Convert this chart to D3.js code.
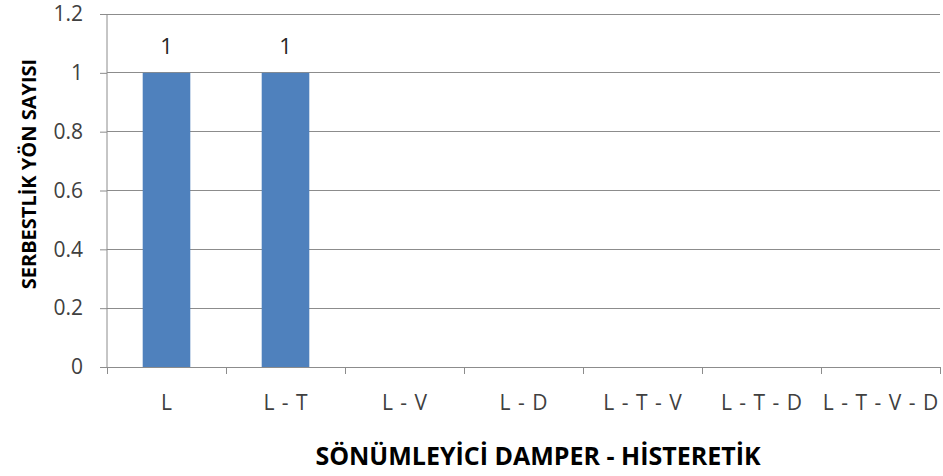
<!DOCTYPE html>
<html><head><meta charset="utf-8">
<script src="https://cdn.jsdelivr.net/npm/d3@7"></script>
<style>body{margin:0;background:#fff}svg{display:block;font-family:"Open Sans",sans-serif}</style>
</head><body><svg id="c" width="943" height="476"></svg>
<script>
const categories = ["L","L - T","L - V","L - D","L - T - V","L - T - D","L - T - V - D"];
const values = [1,1,0,0,0,0,0];
const yTicks = [0,0.2,0.4,0.6,0.8,1,1.2];
const yTickLabels = ["0","0.2","0.4","0.6","0.8","1","1.2"];
const xTitle = "SÖNÜMLEYİCİ DAMPER - HİSTERETİK";
const yTitle = "SERBESTLİK YÖN SAYISI";

const svg = d3.select("#c");
const m = {l:107, r:3, t:14, b:109};
const W = 943 - m.l - m.r, H = 476 - m.t - m.b;
const g = svg.append("g").attr("transform",`translate(${m.l},${m.t})`);
const x = d3.scaleBand().domain(categories).range([0,W]).paddingInner(0.6).paddingOuter(0.3);
const xb = d3.scaleBand().domain(categories).range([0,W]);
const y = d3.scaleLinear().domain([0,1.2]).range([H,0]);

// gridlines
g.selectAll(".grid").data(yTicks.filter(d=>d>0)).enter().append("line")
  .attr("x1",0).attr("x2",W).attr("y1",d=>y(d)).attr("y2",d=>y(d))
  .attr("stroke","#8c8c8c").attr("stroke-width",1).attr("shape-rendering","crispEdges");

// bars
g.selectAll(".bar").data(values).enter().append("rect")
  .attr("x",(d,i)=>x(categories[i])).attr("width",x.bandwidth())
  .attr("y",d=>y(d)).attr("height",d=>H-y(d)).attr("fill","#4F81BD");

// data labels
g.selectAll(".lab").data(values.map((v,i)=>({v,i})).filter(d=>d.v>0)).enter().append("text")
  .attr("x",d=>x(categories[d.i])+x.bandwidth()/2).attr("y",d=>y(d.v)-19)
  .attr("text-anchor","middle").attr("font-size",22).attr("fill","#262626").text(d=>d.v);

// y axis
const ya = d3.axisLeft(y).tickValues(yTicks).tickFormat((d,i)=>yTickLabels[i]).tickSize(7).tickPadding(17);
const yg = g.append("g").call(ya);
yg.select(".domain").attr("stroke","#8c8c8c").attr("d",`M0,${H}V0`);
yg.selectAll(".tick line").attr("stroke","#8c8c8c");
yg.selectAll("text").attr("font-size",21).attr("fill","#404040").attr("font-family","'Open Sans',sans-serif");

// x axis
const xa = g.append("g").attr("transform",`translate(0,${H})`);
xa.append("line").attr("x1",0).attr("x2",W).attr("stroke","#8c8c8c").attr("shape-rendering","crispEdges");
const bounds = categories.map(c=>xb(c)).concat([W]);
xa.selectAll(".xt").data(bounds).enter().append("line")
  .attr("x1",d=>d).attr("x2",d=>d).attr("y1",0).attr("y2",7).attr("stroke","#8c8c8c").attr("shape-rendering","crispEdges");
xa.selectAll(".xl").data(categories).enter().append("text")
  .attr("x",d=>xb(d)+xb.bandwidth()/2).attr("y",43).attr("text-anchor","middle")
  .attr("font-size",21).attr("word-spacing",2).attr("fill","#404040").text(d=>d);

// titles
svg.append("text").attr("x",538).attr("y",465).attr("text-anchor","middle")
  .attr("font-size",25).attr("font-weight","bold").attr("fill","#000").text(xTitle);
svg.append("text").attr("transform",`translate(36,174) rotate(-90)`).attr("text-anchor","middle")
  .attr("font-size",20).attr("font-weight","bold").attr("fill","#000").text(yTitle);
</script></body></html>
